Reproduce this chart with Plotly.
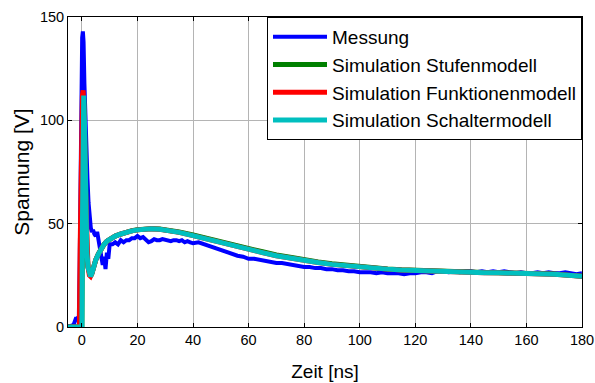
import plotly.graph_objects as go

# ---------------- data ----------------
t_mess = [-5, -4, -3, -2.6, -2.2, -1.8, -1.4, -1.1, -0.8, -0.5, -0.2, 0.1, 0.35, 0.6, 0.9, 1.2, 1.6,
          2.0, 2.4, 2.8, 3.2, 3.6, 4.0, 4.5, 5.0, 5.5, 6.0, 6.5, 7.0, 7.5, 8.0, 8.5, 9.0, 9.5, 10, 11,
          12, 13, 14, 15, 16, 17, 18, 19, 20, 21, 22, 23, 24, 25, 26, 27, 28, 29, 30, 31, 32, 33, 34,
          35, 36, 37, 38, 39, 40, 42, 44, 46, 48, 50, 52, 54, 56, 58, 60, 62, 64, 66, 68, 70, 72, 74,
          76, 78, 80, 82, 84, 86, 88, 90, 92, 94, 96, 98, 100, 102, 104, 106, 108, 110, 112, 114, 116,
          118, 120, 122, 124, 126, 128, 130, 132, 134, 136, 138, 140, 142, 144, 146, 148, 150, 152,
          154, 156, 158, 160, 162, 164, 166, 168, 170, 172, 174, 176, 178, 180]
v_mess = [0.5, 0.5, 1.0, 3.5, 4.0, 4.0, 4.5, 5.0, 30, 80, 120, 140, 143, 138, 118, 102, 85,
          72, 60, 52, 48, 46, 47, 45, 44, 46, 42, 38, 36, 30, 34, 28, 36, 33, 40, 40,
          41, 40, 42, 41, 42, 42, 43, 43, 44, 43, 43.5, 42, 41, 41.5, 42.5, 42, 42, 42.5, 42, 42, 41.5, 42, 42,
          41.5, 42, 41, 41.5, 41, 40.5, 41, 40, 39, 38, 37, 36, 35, 34.5, 34, 33, 33, 32.5, 32, 31.5, 31, 31, 30.5,
          30, 29.5, 29, 29, 28.5, 28.5, 28, 28, 27.5, 27.5, 27, 27, 26.5, 26.5, 26.5, 26, 26.5, 26, 26, 26, 25.5,
          26, 26, 26.5, 26.5, 26, 27, 27, 26.5, 27, 26.5, 27, 27, 26.5, 27, 26.5, 27, 26.5, 27,
          26.5, 26, 26.5, 26, 26, 26.5, 26, 26.5, 26, 26, 26.5, 26, 25.5, 26, 25.5, 26.5]

t_sim = [-5, -0.9, -0.6, -0.3, 0.0, 0.2, 0.45, 0.65, 0.9, 1.2, 1.5, 1.8, 2.2, 2.7, 3.1, 3.6, 4.2, 5, 6,
         7, 8, 9, 10, 12, 14, 16, 18, 20, 22, 25, 28, 30, 35, 40, 45, 50, 55, 60, 65, 70, 75, 80,
         85, 90, 95, 100, 105, 110, 115, 120, 125, 130, 135, 140, 145, 150, 155, 160, 165, 170, 175, 180]
v_stufen = [0, 0, 0, 0, 0, 48, 103, 111, 100, 70, 48, 36, 29, 25, 24.5, 26, 29, 32.5, 35.5,
            38, 40, 41.5, 42.5, 44, 45, 46, 46.6, 47.1, 47.4, 47.6, 47.4, 47.1, 46.0, 44.5, 42.8, 41.0, 39.4, 37.9, 36.4, 34.9, 33.6, 32.5,
            31.5, 30.6, 29.9, 29.2, 28.6, 28.1, 27.7, 27.4, 27.1, 26.9, 26.7, 26.5, 26.4, 26.3, 26.2, 26.1, 25.9, 25.6, 25.1, 24.6]
v_funktion = [0, 0, 40, 85, 105, 112, 114.5, 110, 98, 70, 48, 36, 29, 25, 24.5, 26, 29, 32.5, 35.5,
              38, 40, 41.5, 42.5, 44, 45, 46, 46.5, 47, 47.3, 47.5, 47.3, 47, 45.8, 44.2, 42.5, 40.5, 39, 37.5, 36, 34.5, 33.2, 32.2,
              31.2, 30.3, 29.6, 29, 28.4, 28, 27.6, 27.3, 27, 26.8, 26.6, 26.4, 26.3, 26.2, 26.1, 26, 25.8, 25.5, 25, 24.5]
v_schalter = [0, 0, 0, 0, 0, 50, 105, 112, 100, 70, 48, 36, 29, 25, 24.5, 26, 29, 32.5, 35.5,
              38, 40, 41.5, 42.5, 44, 45, 46, 46.5, 47, 47.3, 47.5, 47.3, 47, 45.8, 44.2, 42.5, 40.5, 39, 37.5, 36, 34.5, 33.2, 32.2,
              31.2, 30.3, 29.6, 29, 28.4, 28, 27.6, 27.3, 27, 26.8, 26.6, 26.4, 26.3, 26.2, 26.1, 26, 25.8, 25.5, 25, 24.5]

x_ticks = [0, 20, 40, 60, 80, 100, 120, 140, 160, 180]
y_ticks = [0, 50, 100, 150]

FONT = "Liberation Sans, Arial, sans-serif"

fig = go.Figure()
fig.add_trace(go.Scatter(x=t_mess, y=v_mess, mode="lines", name="Messung",
                         line=dict(color="#0000FF", width=4)))
fig.add_trace(go.Scatter(x=t_sim, y=v_stufen, mode="lines", name="Simulation Stufenmodell",
                         line=dict(color="#008000", width=5)))
fig.add_trace(go.Scatter(x=t_sim, y=v_funktion, mode="lines", name="Simulation Funktionenmodell",
                         line=dict(color="#FF0000", width=5)))
fig.add_trace(go.Scatter(x=t_sim, y=v_schalter, mode="lines", name="Simulation Schaltermodell",
                         line=dict(color="#00BFBF", width=5)))

axis_common = dict(showline=True, linecolor="black", linewidth=1, mirror="ticks",
                   ticks="inside", ticklen=4, tickcolor="black", automargin=False,
                   showgrid=True, gridcolor="#b4b4b4", gridwidth=1, zeroline=False,
                   tickfont=dict(family=FONT, size=14.5, color="black"))

fig.update_xaxes(range=[-5, 180], tickvals=x_ticks,
                 title=dict(text="Zeit [ns]", font=dict(family=FONT, size=19, color="black"), standoff=17),
                 **axis_common)
fig.update_yaxes(range=[0, 150], tickvals=y_ticks,
                 title=dict(text="Spannung [V]", font=dict(family=FONT, size=21, color="black"), standoff=4),
                 **axis_common)

fig.update_layout(
    width=595, height=383,
    margin=dict(l=68, r=13, t=17, b=56),
    paper_bgcolor="white", plot_bgcolor="white",
    font=dict(family=FONT, color="black"),
    showlegend=True,
    legend=dict(x=1, y=1, xanchor="right", yanchor="top",
                bgcolor="white", bordercolor="black", borderwidth=1,
                font=dict(family=FONT, size=19, color="black"),
                itemwidth=54, tracegroupgap=0),
)

fig.write_html("out.html")
